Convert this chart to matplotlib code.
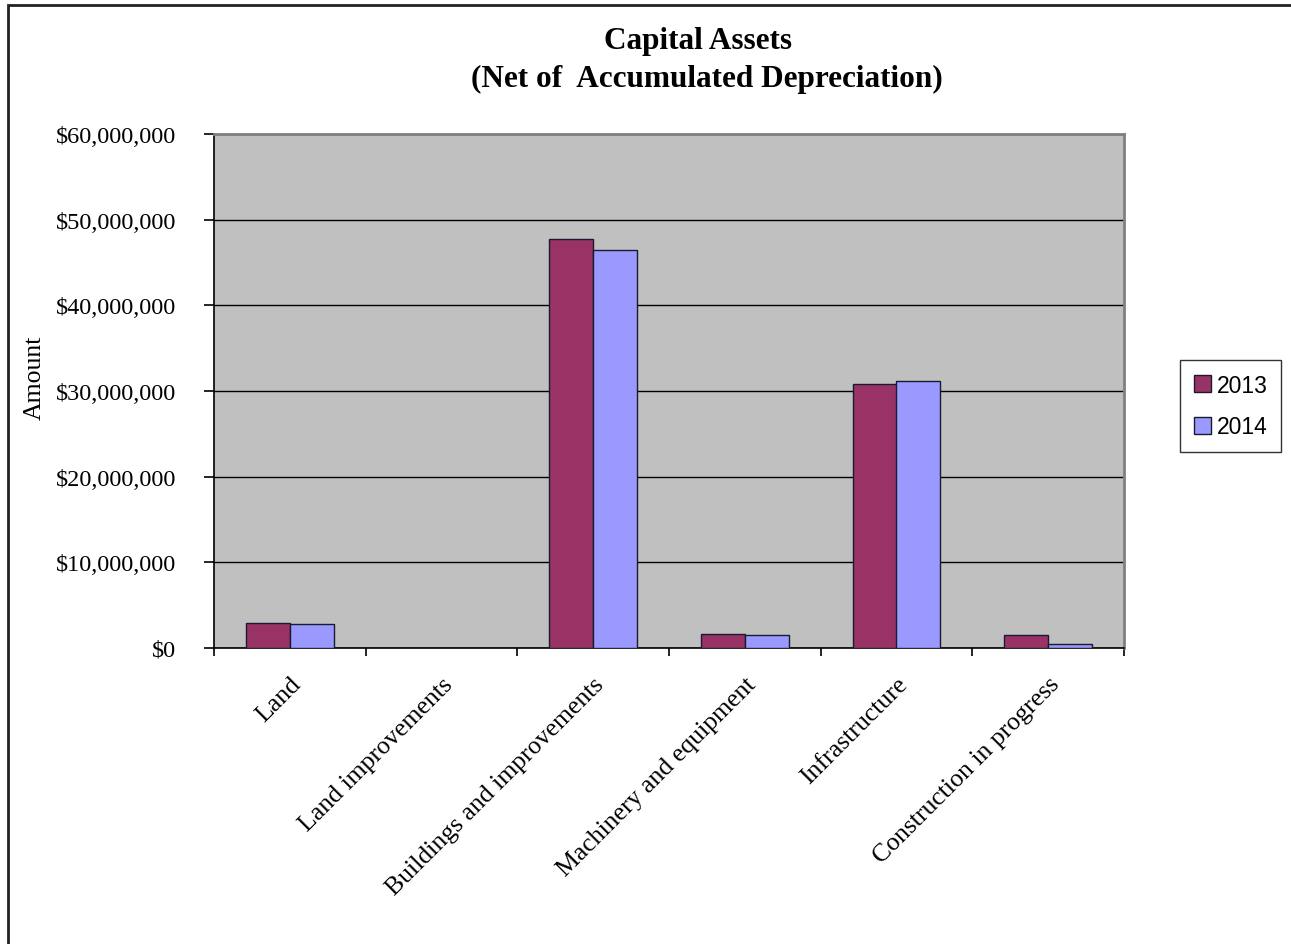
import matplotlib
matplotlib.use("Agg")
import matplotlib.pyplot as plt
from matplotlib.patches import Rectangle
from matplotlib.ticker import FuncFormatter, MultipleLocator
import numpy as np

categories = ["Land", "Land improvements", "Buildings and improvements",
              "Machinery and equipment", "Infrastructure", "Construction in progress"]
values_2013 = [2_900_000, 0, 47_700_000, 1_650_000, 30_800_000, 1_500_000]
values_2014 = [2_850_000, 0, 46_500_000, 1_500_000, 31_200_000, 420_000]
series_names = ["2013", "2014"]

W, H = 1291, 945
fig = plt.figure(figsize=(W / 100, H / 100), dpi=100)

# chart outer border
fig.patches.append(Rectangle((8 / W, -0.05), 1.2, 1 - 6 / H + 0.05,
                             transform=fig.transFigure, fill=False,
                             edgecolor="#222222", linewidth=2))

left, right, top, bottom = 214, 1124, 135, 649
ax = fig.add_axes([left / W, 1 - bottom / H, (right - left) / W, (bottom - top) / H])
ax.set_facecolor("#C0C0C0")

x = np.arange(len(categories))
bw = 0.29
ax.bar(x - bw / 2, values_2013, bw, color="#993366", edgecolor="#1a1a2e",
       linewidth=1.0, label=series_names[0], zorder=3)
ax.bar(x + bw / 2, values_2014, bw, color="#9999FF", edgecolor="#1a1a2e",
       linewidth=1.0, label=series_names[1], zorder=3)

ax.set_xlim(-0.5, len(categories) - 0.5)
ax.set_ylim(0, 60_000_000)
ax.yaxis.set_major_locator(MultipleLocator(10_000_000))
ax.yaxis.set_major_formatter(FuncFormatter(lambda v, p: f"${v:,.0f}"))
ax.grid(axis="y", color="black", linewidth=1.0, zorder=1)

for s in ["top", "right"]:
    ax.spines[s].set_color("#808080")
    ax.spines[s].set_linewidth(2)
for s in ["left", "bottom"]:
    ax.spines[s].set_color("black")
    ax.spines[s].set_linewidth(1.2)

serif = "Liberation Serif"
ax.set_xticks(np.arange(len(categories) + 1) - 0.5, minor=False)
ax.set_xticklabels([])
ax.set_xticks(x, minor=True)
ax.set_xticklabels(categories, minor=True, rotation=45, ha="right",
                   rotation_mode="anchor", fontsize=18.5, family=serif)
ax.tick_params(axis="x", which="major", length=6, width=1.2, direction="out")
ax.tick_params(axis="x", which="minor", length=0, pad=18)
ax.tick_params(axis="y", length=7, width=1.2, direction="out", pad=20)
for lab in ax.get_yticklabels():
    lab.set_family(serif)
    lab.set_fontsize(17.5)

fig.text(35 / W, 1 - 378 / H, "Amount", rotation=90, ha="center", va="center",
         fontsize=18.5, family=serif)

fig.text(698 / W, 1 - 42 / H, "Capital Assets", ha="center", va="center",
         fontsize=22.5, fontweight="bold", family=serif)
fig.text(707 / W, 1 - 79 / H, "(Net of  Accumulated Depreciation)", ha="center",
         va="center", fontsize=22.5, fontweight="bold", family=serif)

leg = ax.legend(loc="center left", bbox_to_anchor=(1180 / W, 1 - 407 / H),
                bbox_transform=fig.transFigure, frameon=True, fancybox=False,
                edgecolor="black", prop={"family": "Liberation Sans", "size": 16.5},
                handlelength=0.75, handleheight=0.75, handletextpad=0.25,
                labelspacing=0.8, borderpad=0.6, borderaxespad=0)
leg.get_frame().set_linewidth(1.0)

fig.savefig("out.png", dpi=100, facecolor="white")
